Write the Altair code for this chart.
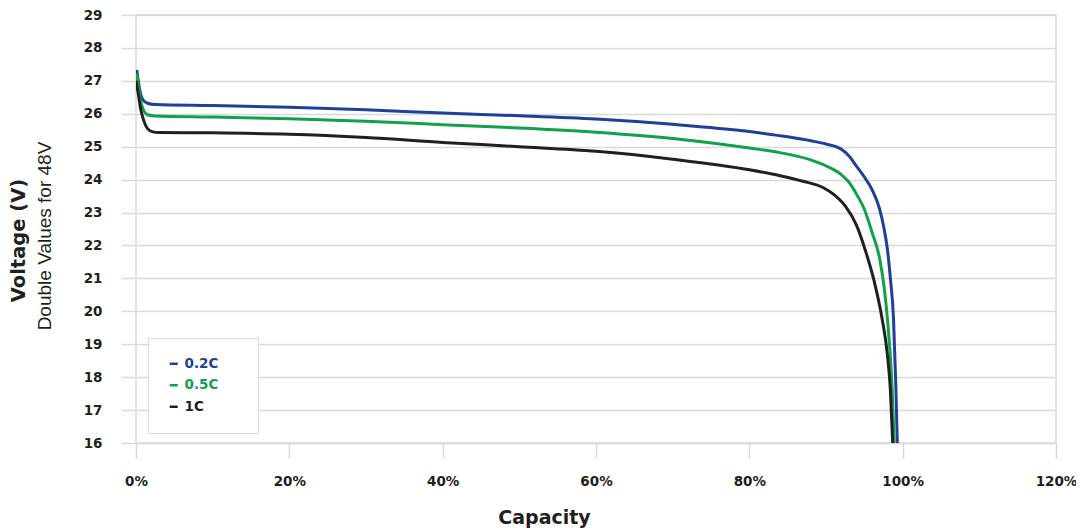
import altair as alt
import pandas as pd

# ---- data ----
series = ["0.2C", "0.5C", "1C"]
colors = ["#213f99", "#12a14b", "#231f20"]

cap_02 = [0.1, 0.3, 0.6, 1.0, 1.5, 2.5, 10, 20, 30, 40, 50, 60, 70, 80, 85, 88, 90, 92,
          93, 94, 95, 96, 97, 97.5, 98.0, 98.4, 98.8, 99.1, 99.3]
volt_02 = [27.33, 27.0, 26.6, 26.4, 26.32, 26.28, 26.25, 26.2, 26.12, 26.02, 25.94, 25.84,
           25.68, 25.46, 25.3, 25.18, 25.08, 24.92, 24.72, 24.4, 24.08, 23.7, 23.1, 22.6,
           21.9, 21.0, 19.8, 17.8, 16.0]

cap_05 = [0.1, 0.3, 0.6, 1.0, 1.5, 2.5, 10, 20, 30, 40, 50, 60, 70, 80, 84, 88, 90, 92,
          93, 94, 95, 96, 97, 97.6, 98.0, 98.6, 98.9]
volt_05 = [27.22, 26.9, 26.4, 26.1, 25.97, 25.93, 25.9, 25.85, 25.77, 25.67, 25.57, 25.44,
           25.25, 24.96, 24.82, 24.6, 24.42, 24.15, 23.92, 23.55, 23.1, 22.4, 21.6, 20.7,
           19.8, 17.8, 16.0]

cap_1 = [0.0, 0.3, 0.6, 1.0, 1.5, 2.2, 3, 10, 20, 30, 40, 50, 60, 70, 80, 84, 87, 89.6,
         91, 92.5, 94, 95.2, 96.3, 97.3, 98.0, 98.4, 98.7]
volt_1 = [27.0, 26.6, 26.15, 25.8, 25.55, 25.45, 25.43, 25.42, 25.38, 25.28, 25.13, 25.0,
          24.86, 24.62, 24.3, 24.12, 23.95, 23.76, 23.55, 23.2, 22.6, 21.8, 20.9, 19.8,
          18.7, 17.6, 16.0]

x_ticks = [0, 20, 40, 60, 80, 100, 120]
y_ticks = list(range(16, 30))
subtitle = ["Double Values for 48V"]

rows = []
for i, (name, caps, volts) in enumerate(
        [(series[0], cap_02, volt_02), (series[1], cap_05, volt_05), (series[2], cap_1, volt_1)]):
    for c, v in zip(caps, volts):
        rows.append({"series": name, "capacity": c, "voltage": v, "k": i})
df = pd.DataFrame(rows)

GRID = "#d9d9d9"
INK = "#231f20"

label_color_expr = " : ".join(
    f"datum.value == '{s}' ? '{c}'" for s, c in zip(series[:-1], colors[:-1])
) + f" : '{colors[-1]}'"

lines = alt.Chart(df).mark_line(strokeWidth=3, interpolate="monotone", clip=True).encode(
    x=alt.X("capacity:Q",
            scale=alt.Scale(domain=[0, 120], nice=False, zero=False),
            axis=alt.Axis(values=x_ticks, labelExpr="datum.value + '%'", title="Capacity",
                          grid=False, domain=False, tickSize=15, tickColor=GRID, tickWidth=1.5,
                          labelFlush=False, labelPadding=16, titleX=408, titleY=80,
                          titleAlign="center", titleBaseline="alphabetic", titleFontSize=19)),
    y=alt.Y("voltage:Q",
            scale=alt.Scale(domain=[16, 29], nice=False, zero=False),
            axis=alt.Axis(values=y_ticks, title="Voltage (V)", grid=True, gridColor=GRID,
                          gridWidth=1.5, domain=False, tickSize=15, tickColor=GRID, tickWidth=1.5,
                          labelPadding=19, titleX=-118, titleY=225, titleAngle=270,
                          titleAlign="center", titleBaseline="middle", titleFontSize=19.5)),
    color=alt.Color("series:N",
                    scale=alt.Scale(domain=series, range=colors),
                    legend=alt.Legend(title="MM", titleOrient="right", titleOpacity=0,
                                      titleFontSize=10, titlePadding=4,
                                      orient="none", legendX=12, legendY=323,
                                      direction="vertical", symbolType="stroke", symbolSize=64,
                                      symbolStrokeWidth=2.5, labelFont="DejaVu Sans",
                                      labelFontWeight="bold", labelFontSize=13.5, labelOffset=4,
                                      rowPadding=6.5, padding=19, strokeColor=GRID,
                                      fillColor="white",
                                      labelColor=alt.ExprRef(label_color_expr))),
    detail="k:N",
)

sub = alt.Chart(pd.DataFrame({"label": subtitle})).mark_text(
    angle=270, font="Liberation Sans", fontSize=19, color=INK, align="center", baseline="middle"
).encode(text="label:N", x=alt.value(-91), y=alt.value(221))

chart = alt.layer(lines, sub).properties(
    width=920, height=428,
    autosize=alt.AutoSizeParams(type="none"),
    padding={"left": 128, "top": 7, "right": 20, "bottom": 88},
).configure_view(stroke=GRID, strokeWidth=1.5).configure_axis(
    labelFont="DejaVu Sans", labelFontWeight="bold", labelFontSize=13.5, labelColor=INK,
    titleFont="DejaVu Sans", titleFontWeight="bold", titleColor=INK,
)

chart.save("out.html", embed_options={"renderer": "svg", "actions": False})
